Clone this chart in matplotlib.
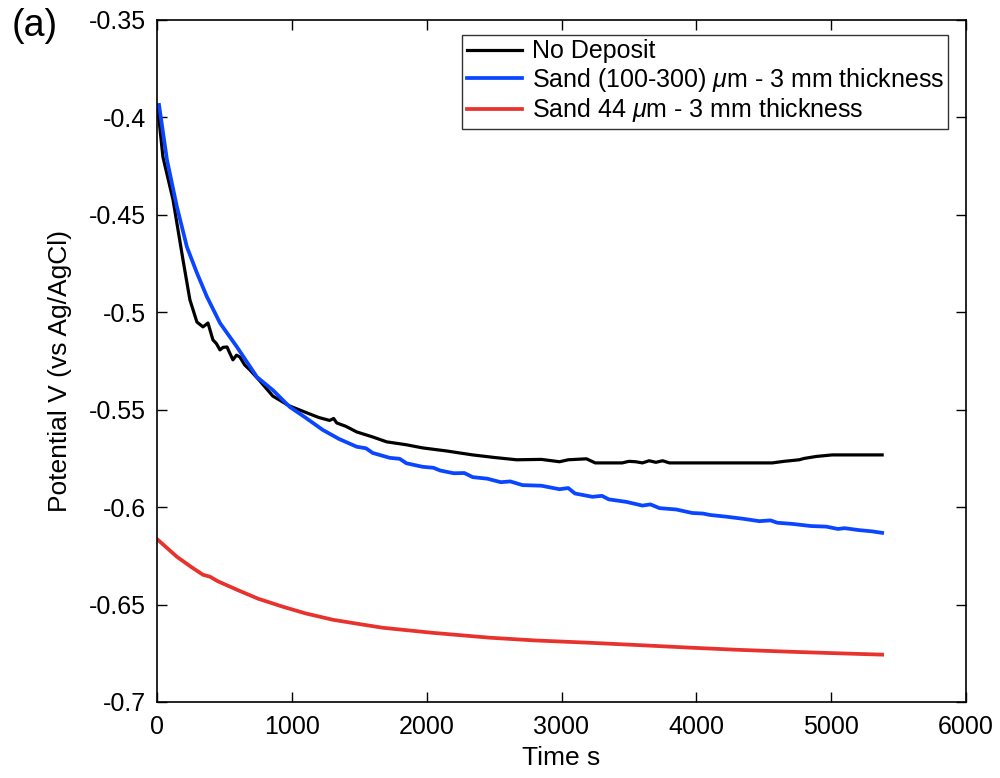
import matplotlib
matplotlib.use("Agg")
import matplotlib.pyplot as plt

plt.rcParams['font.family'] = ['Liberation Sans', 'DejaVu Sans']
plt.rcParams['mathtext.fontset'] = 'custom'
plt.rcParams['mathtext.it'] = 'Liberation Sans:italic'
plt.rcParams['mathtext.rm'] = 'Liberation Sans'

# Data (time in s, potential in V vs Ag/AgCl)
t_black = [7, 44, 119, 193, 244, 296, 341, 360, 378, 415, 440, 467, 490, 519, 540, 563, 590, 615,
           650, 689, 760, 859, 980, 1111, 1200, 1280, 1310, 1333, 1400, 1481, 1600, 1704, 1850,
           1970, 2150, 2341, 2500, 2667, 2850, 2985, 3050, 3185, 3250, 3333, 3450, 3500, 3550,
           3600, 3650, 3700, 3750, 3800, 4563, 4650, 4763, 4800, 4889, 5007, 5378]
v_black = [-0.396, -0.4203, -0.4423, -0.4732, -0.4936, -0.505, -0.5075, -0.5065, -0.5055, -0.5142,
           -0.516, -0.5193, -0.518, -0.5178, -0.521, -0.5244, -0.522, -0.523, -0.527, -0.5296,
           -0.535, -0.543, -0.548, -0.5516, -0.554, -0.5555, -0.5545, -0.5568, -0.5585, -0.5614,
           -0.5640, -0.5665, -0.568, -0.5696, -0.5712, -0.5732, -0.5745, -0.5757, -0.5755,
           -0.5767, -0.5757, -0.5752, -0.5773, -0.5773, -0.5773, -0.5765, -0.5767, -0.5773,
           -0.5762, -0.5770, -0.5762, -0.5773, -0.5773, -0.5765, -0.5757, -0.5750, -0.574,
           -0.5732, -0.5732]

t_blue = [15, 74, 148, 222, 296, 370, 467, 593, 741, 860, 985, 1100, 1230, 1350, 1481, 1550, 1600,
          1726, 1800, 1850, 1970, 2050, 2100, 2200, 2280, 2341, 2450, 2550, 2620, 2711, 2850, 2985,
          3050, 3100, 3230, 3300, 3350, 3481, 3600, 3660, 3726, 3850, 3970, 4050, 4100, 4222, 4350,
          4467, 4550, 4600, 4711, 4850, 4963, 5050, 5100, 5207, 5300, 5378]
v_blue = [-0.3936, -0.4218, -0.446, -0.4665, -0.4798, -0.492, -0.5055, -0.5178, -0.5332, -0.540,
          -0.5486, -0.554, -0.5604, -0.565, -0.569, -0.5698, -0.5722, -0.5747, -0.5752, -0.5775,
          -0.5793, -0.5798, -0.5812, -0.5826, -0.5825, -0.5846, -0.5854, -0.5872, -0.5868,
          -0.5887, -0.5890, -0.5908, -0.5902, -0.5930, -0.5947, -0.5942, -0.5960, -0.5973,
          -0.5992, -0.5986, -0.6005, -0.6012, -0.6030, -0.6033, -0.6040, -0.6049, -0.6060,
          -0.6072, -0.6068, -0.6080, -0.6086, -0.6097, -0.6100, -0.6112, -0.6108, -0.6118,
          -0.6124, -0.6132]

t_red = [0, 7, 148, 260, 341, 393, 450, 593, 750, 933, 1100, 1304, 1500, 1674, 2044, 2467, 2800,
         3207, 3600, 3948, 4300, 4689, 5000, 5378]
v_red = [-0.6165, -0.6168, -0.6255, -0.631, -0.6347, -0.6357, -0.638, -0.6424, -0.647, -0.6511,
         -0.6545, -0.6578, -0.660, -0.6619, -0.6645, -0.667, -0.6684, -0.6696, -0.6709, -0.6721,
         -0.6732, -0.6742, -0.6749, -0.6757]

labels = ['No Deposit', r'Sand (100-300) $\mu$m - 3 mm thickness', r'Sand 44 $\mu$m - 3 mm thickness']
colors = ['#000000', '#0a46ff', '#e8322d']

x_ticks = [0, 1000, 2000, 3000, 4000, 5000, 6000]
y_ticks = [-0.7, -0.65, -0.6, -0.55, -0.5, -0.45, -0.4, -0.35]
y_ticklabels = ['-0.7', '-0.65', '-0.6', '-0.55', '-0.5', '-0.45', '-0.4', '-0.35']

fig = plt.figure(figsize=(10, 7.78), dpi=100)
ax = fig.add_axes([0.157, 0.0977, 0.809, 0.8766])

ax.plot(t_black, v_black, color=colors[0], lw=2.3, label=labels[0])
ax.plot(t_blue, v_blue, color=colors[1], lw=2.7, label=labels[1])
ax.plot(t_red, v_red, color=colors[2], lw=2.7, label=labels[2])

ax.set_xlim(0, 6000)
ax.set_ylim(-0.7, -0.35)
ax.set_xticks(x_ticks)
ax.set_xticklabels([str(v) for v in x_ticks])
ax.set_yticks(y_ticks)
ax.set_yticklabels(y_ticklabels)
ax.tick_params(direction='in', length=7, width=1, top=True, right=True, labelsize=18)
ax.tick_params(axis='x', pad=9.5)
ax.tick_params(axis='y', pad=8)
for s in ax.spines.values():
    s.set_linewidth(1.2)

ax.set_xlabel('Time s', fontsize=19)
ax.xaxis.set_label_coords(0.5, -0.064)
ax.set_ylabel('Potential V (vs Ag/AgCl)', fontsize=19)
ax.yaxis.set_label_coords(-0.105, 0.485)

leg = ax.legend(loc='upper right', fontsize=18, frameon=True, fancybox=False, edgecolor='black',
                handlelength=2.2, handletextpad=0.4, borderpad=0.18, labelspacing=0.1,
                borderaxespad=0, bbox_to_anchor=(0.978, 0.978))
leg.get_frame().set_linewidth(1.0)

fig.text(0.012, 0.99, '(a)', fontsize=27, va='top')

fig.savefig('out.png', dpi=100)
